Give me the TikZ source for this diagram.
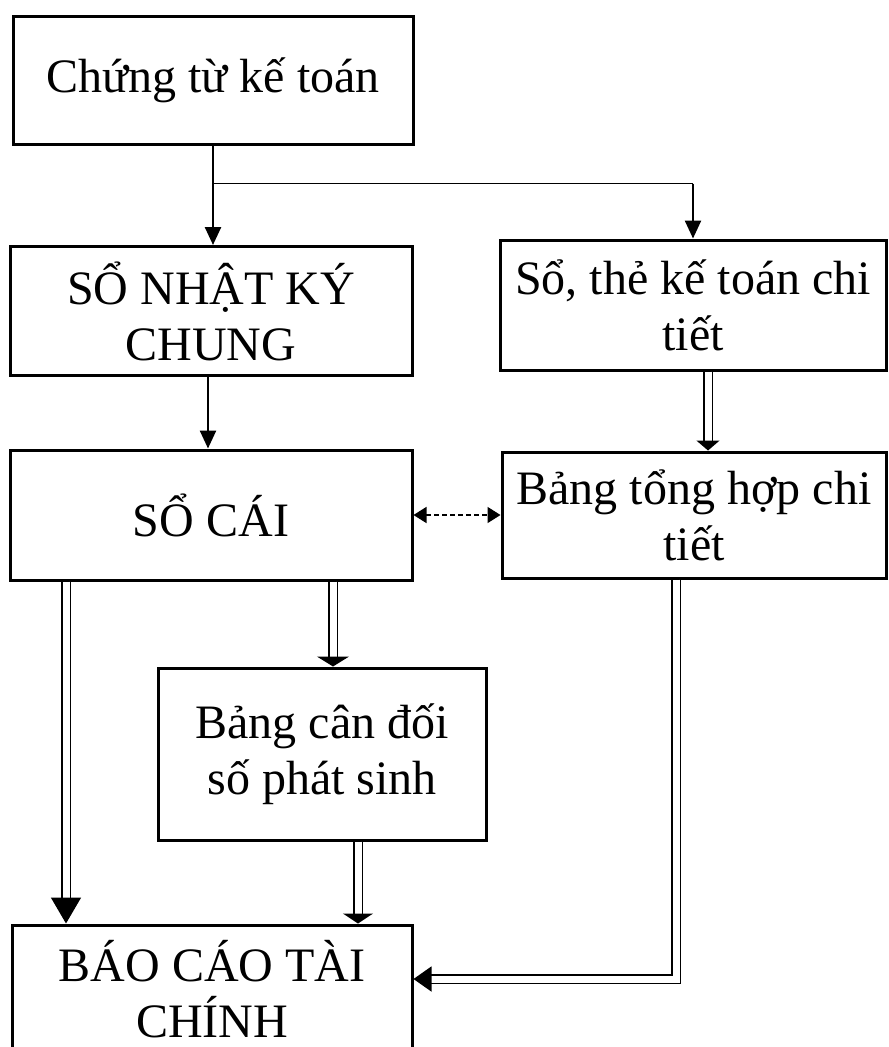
\documentclass[tikz,border=0pt]{standalone}
\usepackage{fontspec}
\setmainfont{Liberation Serif}
\usetikzlibrary{arrows.meta}

\begin{document}
\begin{tikzpicture}[x = 1pt, y = -1pt,
  box/.style = {draw, line width = 3pt, align = center, inner sep = 0pt,
    font = \fontsize{48}{56}\selectfont},
  arr/.style = {line width = 2.5pt, -{Triangle[length = 18pt, width = 16pt]}},
  dbl/.style = {double, line width = 1.5pt, double distance = 7pt}]
\useasboundingbox (0, 0) rectangle (889, 1047);
% boxes
\node[box, minimum width = 400pt, minimum height = 128pt] (ct) at (213, 80) {Chứng từ kế toán};
\node[box, minimum width = 402pt, minimum height = 129pt] (nkc) at (211, 311) {SỔ NHẬT KÝ\\CHUNG};
\node[box, minimum width = 386pt, minimum height = 130pt] (sct) at (693, 305) {Sổ, thẻ kế toán chi\\tiết};
\node[box, minimum width = 402pt, minimum height = 130pt] (sc) at (211, 515) {SỔ CÁI};
\node[box, minimum width = 384pt, minimum height = 126pt] (bth) at (694, 515) {Bảng tổng hợp chi\\tiết};
\node[box, minimum width = 328pt, minimum height = 172pt] (cd) at (322, 754) {Bảng cân đối\\số phát sinh};
\node[box, minimum width = 400pt, minimum height = 128pt] (bctc) at (212, 989) {BÁO CÁO TÀI\\CHÍNH};
% single arrows
\coordinate (split) at ([yshift = -38pt]ct.south);
\draw[arr] (ct.south) -- (ct.south |- nkc.north);
\draw[line width = 1.2pt] (split) -- (split -| sct.north);
\draw[arr] (split -| sct.north) -- (sct.north);
\draw[arr] ([xshift = -3pt]nkc.south) -- ([xshift = -3pt]sc.north);
\draw[line width = 1.5pt, dash pattern = on 5pt off 3pt,
  {Triangle[length = 13pt, width = 16pt]}-{Triangle[length = 13pt, width = 16pt]}] (sc.east) -- (bth.west);
% double arrows
\draw[dbl, -{Triangle[length = 10pt, width = 23pt]}] ([xshift = 15pt]sct.south) -- ([xshift = 15pt]sct.south |- bth.north);
\draw[dbl, -{Triangle[length = 26pt, width = 30pt]}] ([xshift = -145pt]sc.south) -- ([xshift = -145pt]sc.south |- bctc.north);
\draw[dbl, -{Triangle[length = 10pt, width = 32pt]}] ([xshift = 122pt]sc.south) -- ([xshift = 122pt]sc.south |- cd.north);
\draw[dbl, -{Triangle[length = 10pt, width = 30pt]}] ([xshift = 36pt]cd.south) -- ([xshift = 36pt]cd.south |- bctc.north);
\draw[dbl, -{Triangle[length = 18pt, width = 25pt]}] ([xshift = -18pt]bth.south) |- ([yshift = 10pt]bctc.east);
\end{tikzpicture}
\end{document}
